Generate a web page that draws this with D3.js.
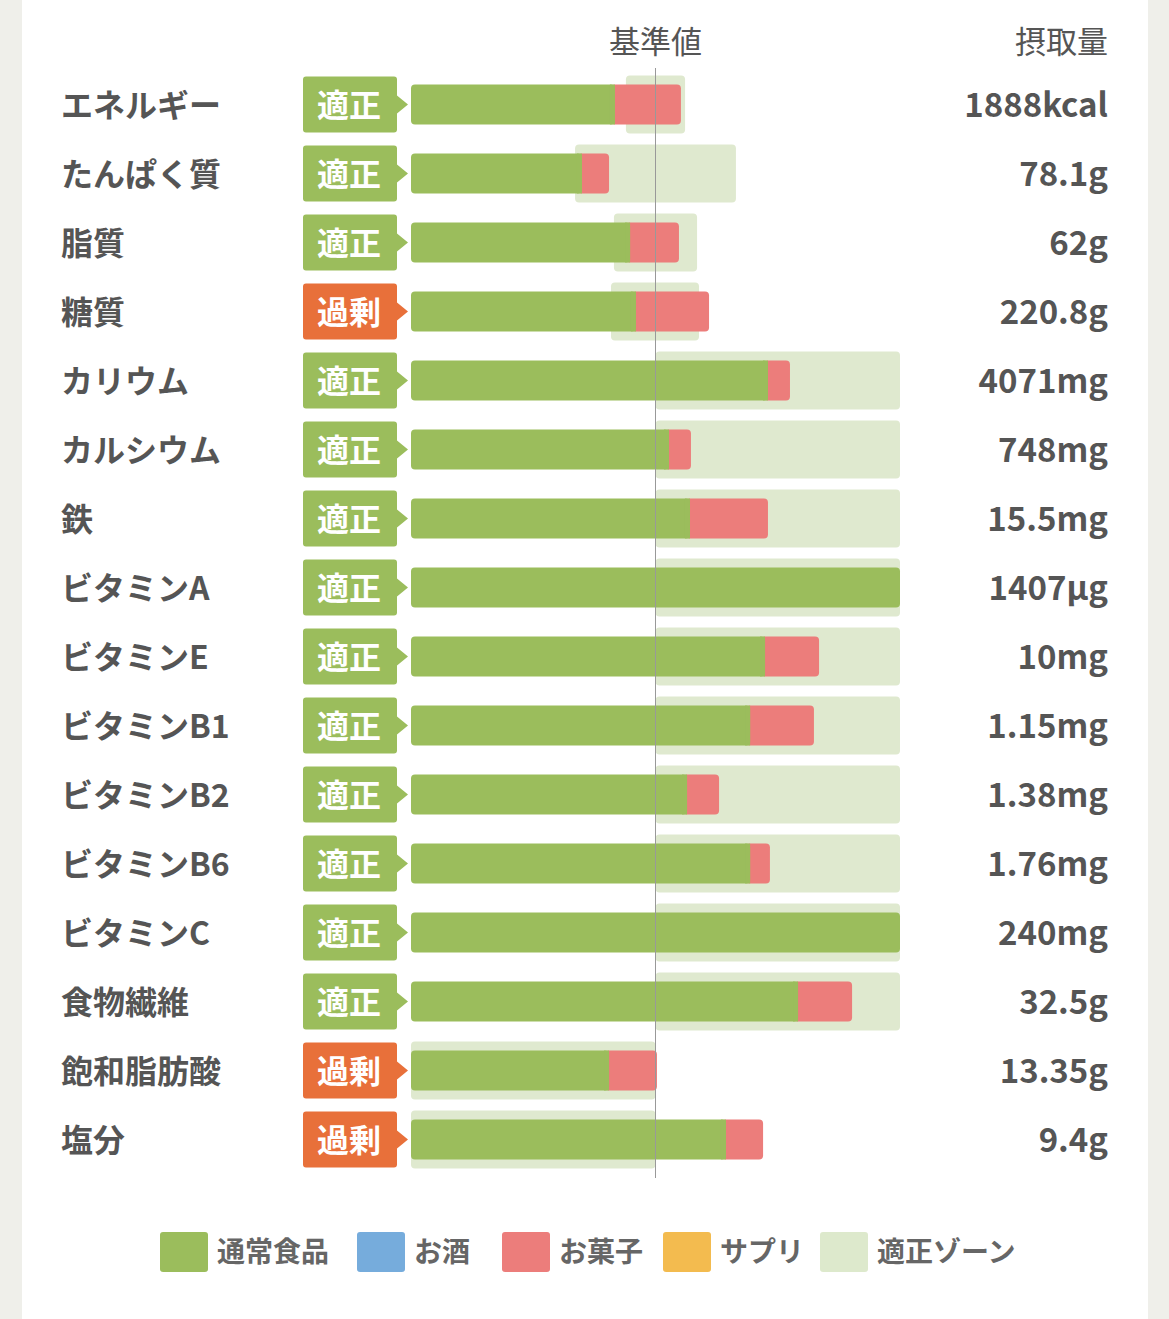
<!DOCTYPE html>
<html><head><meta charset="utf-8">
<script src="https://cdn.jsdelivr.net/npm/d3@7"></script>
<style>
body{margin:0;background:#efefea;}
svg{display:block;font-family:"Noto Sans CJK JP","Noto Sans",sans-serif;}
</style></head><body>
<svg id="c" width="1169" height="1319"></svg>
<script>
const nutrients = ["エネルギー","たんぱく質","脂質","糖質","カリウム","カルシウム","鉄","ビタミンA","ビタミンE","ビタミンB1","ビタミンB2","ビタミンB6","ビタミンC","食物繊維","飽和脂肪酸","塩分"];
const status = ["適正","適正","適正","過剰","適正","適正","適正","適正","適正","適正","適正","適正","適正","適正","過剰","過剰"];
const amounts = ["1888kcal","78.1g","62g","220.8g","4071mg","748mg","15.5mg","1407µg","10mg","1.15mg","1.38mg","1.76mg","240mg","32.5g","13.35g","9.4g"];
// percent of reference value
const food  = [83.4,69.9,89.6,92.0,146.0,105.5,114.1,200,144.8,138.7,112.9,138.7,200,158.3,81.0,128.8];
const snack = [27.0,11.1,20.0,29.9,9.0,9.0,31.9,0,22.1,26.1,13.1,8.1,0,22.1,19.6,15.2];
const zoneLo = [87.9,67.1,83.0,81.8,100,100,100,100,100,100,100,100,100,100,0,0];
const zoneHi = [112.1,132.9,117.0,117.8,200,200,200,200,200,200,200,200,200,200,100,100];
const legendNames = ["通常食品","お酒","お菓子","サプリ","適正ゾーン"];
const legendColors = ["#9bbd5c","#76acdc","#ec7d7b","#f3bb4f","#dde9cc"];

const svg = d3.select("#c");
svg.append("rect").attr("x",22).attr("y",0).attr("width",1126).attr("height",1319).attr("fill","#fff");

const x = d3.scaleLinear().domain([0,200]).range([411,900]);
const y = d3.scaleBand().domain(nutrients).range([70,1174]).paddingInner(0);
const cy = d => y(d) + y.bandwidth()/2;

svg.append("text").attr("x",x(100)).attr("y",53).attr("text-anchor","middle")
  .attr("font-size",31).attr("fill","#555").text("基準値");
svg.append("text").attr("x",1108).attr("y",53).attr("text-anchor","end")
  .attr("font-size",31).attr("fill","#555").text("摂取量");

const rows = svg.selectAll(".row").data(nutrients).enter().append("g");

rows.append("rect").attr("x",(d,i)=>x(zoneLo[i])).attr("y",d=>cy(d)-29)
  .attr("width",(d,i)=>x(zoneHi[i])-x(zoneLo[i])).attr("height",58).attr("rx",4).attr("fill","#dfe9cf");

rows.append("rect").attr("x",(d,i)=>x(food[i])-4).attr("y",d=>cy(d)-20)
  .attr("width",(d,i)=>snack[i]>0 ? x(food[i]+snack[i])-x(food[i])+4 : 0).attr("height",40).attr("rx",4).attr("fill","#ec7d7b");
rows.append("rect").attr("x",x(0)).attr("y",d=>cy(d)-20)
  .attr("width",(d,i)=>x(food[i])-x(0)).attr("height",40).attr("rx",4).attr("fill","#9bbd5c");
rows.filter((d,i)=>snack[i]>0).append("rect").attr("x",(d)=>{const i=nutrients.indexOf(d);return x(food[i])-5;})
  .attr("y",d=>cy(d)-20).attr("width",5).attr("height",40).attr("fill","#9bbd5c");

rows.append("text").attr("x",61).attr("y",d=>cy(d)+12).attr("font-size",32).attr("font-weight",700)
  .attr("fill","#555").text(d=>d);

rows.append("path").attr("d",d=>{const c=cy(d);return `M306,${c-28} H394 Q397,${c-28} 397,${c-25} V${c-9} L408,${c} L397,${c+9} V${c+25} Q397,${c+28} 394,${c+28} H306 Q303,${c+28} 303,${c+25} V${c-25} Q303,${c-28} 306,${c-28} Z`;})
  .attr("fill",(d,i)=>status[i]==="過剰"?"#e8703a":"#9bbd5c");
rows.append("text").attr("x",349).attr("y",d=>cy(d)+12).attr("text-anchor","middle").attr("font-size",32)
  .attr("font-weight",700).attr("fill","#fff").text((d,i)=>status[i]);

rows.append("text").attr("x",1108).attr("y",d=>cy(d)+12).attr("text-anchor","end").attr("font-size",33)
  .attr("font-weight",700).attr("fill","#555").text((d,i)=>amounts[i]);

svg.append("line").attr("x1",x(100)).attr("x2",x(100)).attr("y1",68).attr("y2",1178)
  .attr("stroke","#999").attr("stroke-width",1);

const lx = [160,357,502,663,820];
const lg = svg.selectAll(".lg").data(legendNames).enter().append("g");
lg.append("rect").attr("x",(d,i)=>lx[i]).attr("y",1232).attr("width",48).attr("height",40).attr("rx",3)
  .attr("fill",(d,i)=>legendColors[i]);
lg.append("text").attr("x",(d,i)=>lx[i]+57).attr("y",1262).attr("font-size",28).attr("font-weight",700)
  .attr("fill","#666").text(d=>d);
</script></body></html>
